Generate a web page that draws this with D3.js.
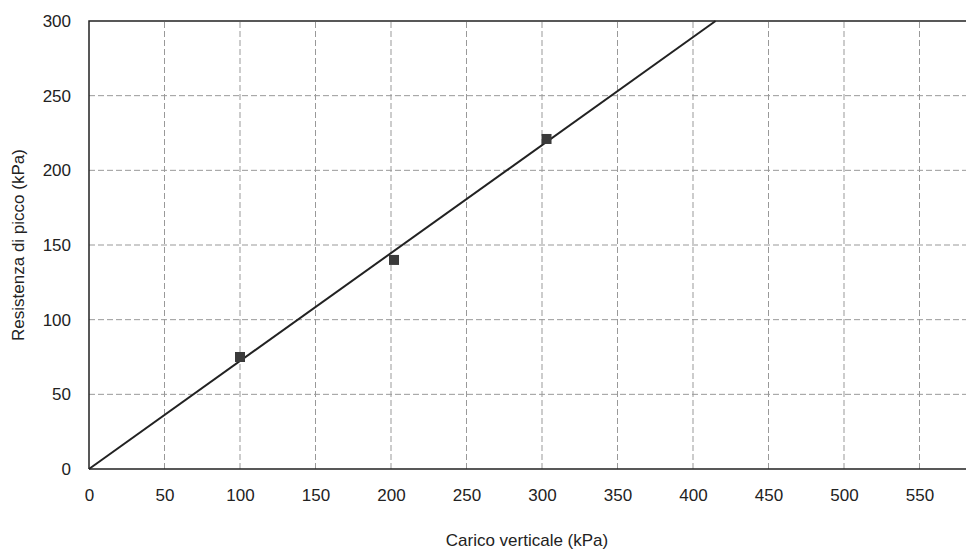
<!DOCTYPE html>
<html><head><meta charset="utf-8">
<script src="https://cdn.jsdelivr.net/npm/d3@7"></script>
<style>body{margin:0;background:#fff}svg{display:block}</style>
</head><body>
<svg id="c" width="966" height="550"></svg>
<script>
// valori
const carico = [100, 202, 303]
const resistenza = [75, 140, 221]
const xTicks = [0, 50, 100, 150, 200, 250, 300, 350, 400, 450, 500, 550]
const yTicks = [0, 50, 100, 150, 200, 250, 300]
const pendenza = 0.723 // retta di inviluppo tau = 0.723 * sigma
const lineaX = [0, 300 / 0.723]

const svg = d3.select('#c')
const x = d3.scaleLinear().domain([0, 600]).range([89, 995])
const y = d3.scaleLinear().domain([0, 300]).range([469, 21])
const font = 'Liberation Sans, Arial, sans-serif'

// griglia
const grid = svg.append('g').attr('stroke', '#999').attr('stroke-width', 1).attr('stroke-dasharray', '6,3')
grid.selectAll('.gx').data(xTicks.slice(1)).enter().append('line')
  .attr('x1', d => x(d)).attr('x2', d => x(d)).attr('y1', y(0)).attr('y2', y(300))
grid.selectAll('.gy').data(yTicks.slice(1, -1)).enter().append('line')
  .attr('x1', x(0)).attr('x2', 966).attr('y1', d => y(d)).attr('y2', d => y(d))

// cornice
svg.append('path').attr('fill', 'none').attr('stroke', '#222').attr('stroke-width', 1.5)
  .attr('d', `M${x(0)},${y(0)}H966M${x(0)},${y(0)}V${y(300)}H966`)

// assi
const xAxis = svg.append('g').attr('transform', `translate(0,${y(0)})`)
  .call(d3.axisBottom(x).tickValues(xTicks).tickSize(0).tickPadding(20))
const yAxis = svg.append('g').attr('transform', `translate(${x(0)},0)`)
  .call(d3.axisLeft(y).tickValues(yTicks).tickSize(0).tickPadding(18))
;[xAxis, yAxis].forEach(a => {
  a.select('.domain').remove()
  a.selectAll('text').attr('font-family', font).attr('font-size', 17).attr('fill', '#222')
})

// retta
svg.append('line').attr('stroke', '#222').attr('stroke-width', 2)
  .attr('x1', x(lineaX[0])).attr('y1', y(pendenza * lineaX[0]))
  .attr('x2', x(lineaX[1])).attr('y2', y(pendenza * lineaX[1]))

// punti
svg.selectAll('.pt').data(carico).enter().append('rect')
  .attr('width', 10).attr('height', 10).attr('fill', '#3a3a3a')
  .attr('x', d => x(d) - 5).attr('y', (d, i) => y(resistenza[i]) - 5)

// titoli
svg.append('text').attr('x', 527).attr('y', 546).attr('text-anchor', 'middle')
  .attr('font-family', font).attr('font-size', 17).attr('fill', '#222').text('Carico verticale (kPa)')
svg.append('text').attr('transform', 'translate(24,245) rotate(-90)').attr('text-anchor', 'middle')
  .attr('font-family', font).attr('font-size', 17).attr('fill', '#222').text('Resistenza di picco (kPa)')
</script>
</body></html>
